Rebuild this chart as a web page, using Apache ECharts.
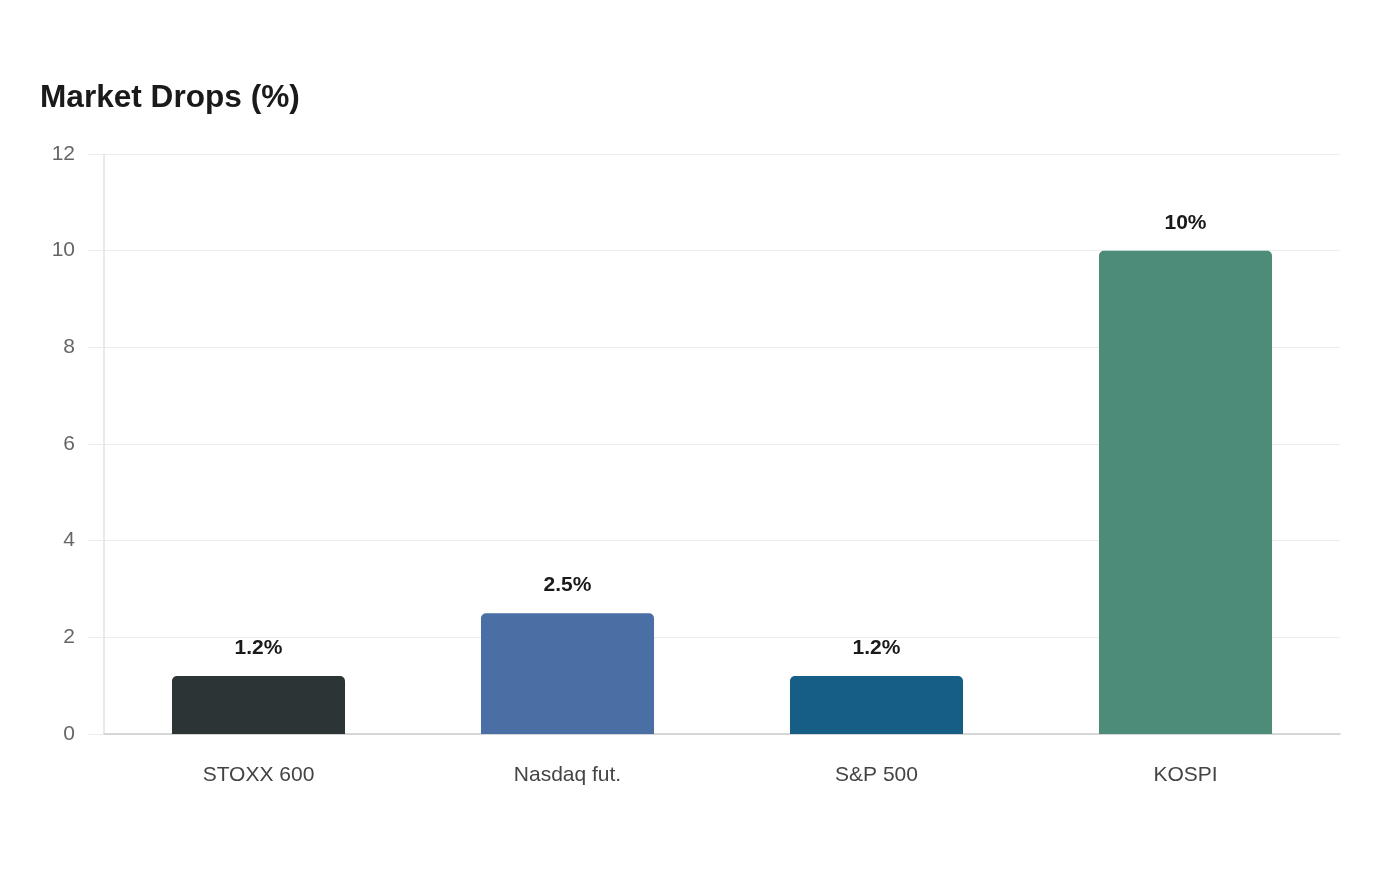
<!DOCTYPE html>
<html>
<head>
<meta charset="utf-8">
<script src="https://cdn.jsdelivr.net/npm/echarts@6/dist/echarts.min.js"></script>
<style>
  html, body { margin: 0; padding: 0; background: #fff; }
  #chart { width: 1400px; height: 880px; }
</style>
</head>
<body>
<div id="chart"></div>
<script>
const categories = ['STOXX 600', 'Nasdaq fut.', 'S&P 500', 'KOSPI']
const drops = [1.2, 2.5, 1.2, 10]
const barColors = ['#2d3436', '#4a6fa5', '#175e87', '#4e8c7a']

const font = '"Liberation Sans", Arial, sans-serif'

const chart = echarts.init(document.getElementById('chart'))
chart.setOption({
  animation: false,
  title: {
    text: 'Market Drops (%)',
    left: 35,
    top: 77,
    textStyle: {
      fontFamily: font,
      fontSize: 31.6,
      fontWeight: 'bold',
      color: '#1a1a1a'
    }
  },
  grid: {
    left: 104,
    right: 60,
    top: 154,
    bottom: 146
  },
  xAxis: {
    type: 'category',
    data: categories,
    axisLine: { lineStyle: { color: '#cccccc', width: 1.5 } },
    axisTick: { show: false },
    axisLabel: {
      margin: 31,
      color: '#444',
      fontSize: 21,
      fontFamily: font
    }
  },
  yAxis: {
    type: 'value',
    min: 0,
    max: 12,
    interval: 2,
    axisLine: { show: true, lineStyle: { color: '#e3e3e3', width: 1.5 } },
    axisTick: { show: true, length: 16, lineStyle: { color: '#ececec' } },
    splitLine: { lineStyle: { color: '#ececec' } },
    axisLabel: {
      margin: 29,
      color: '#666',
      fontSize: 21,
      fontFamily: font
    }
  },
  series: [
    {
      type: 'bar',
      barWidth: '56%',
      data: drops.map((v, i) => ({
        value: v,
        itemStyle: { color: barColors[i] }
      })),
      itemStyle: { borderRadius: [5, 5, 0, 0] },
      label: {
        show: true,
        position: 'top',
        distance: 17,
        formatter: p => p.value + '%',
        color: '#1a1a1a',
        fontSize: 21,
        fontWeight: 'bold',
        fontFamily: font
      }
    }
  ]
})
</script>
</body>
</html>
